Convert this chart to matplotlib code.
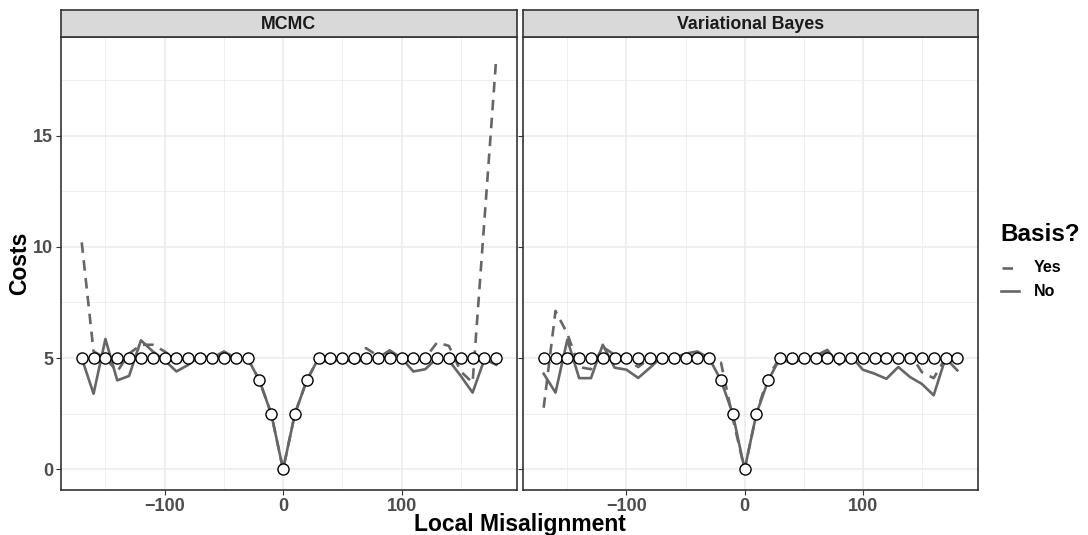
import matplotlib
matplotlib.use("Agg")
import matplotlib.pyplot as plt
from matplotlib.lines import Line2D
from matplotlib.ticker import MultipleLocator
import numpy as np

plt.rcParams['font.family'] = ['Liberation Sans', 'DejaVu Sans']
plt.rcParams['font.weight'] = 'bold'

misalignment = [-170, -160, -150, -140, -130, -120, -110, -100, -90, -80, -70, -60,
                -50, -40, -30, -20, -10, 0, 10, 20, 30, 40, 50, 60, 70, 80, 90, 100,
                110, 120, 130, 140, 150, 160, 170, 180]
target = [5, 5, 5, 5, 5, 5, 5, 5, 5, 5, 5, 5, 5, 5, 5, 4, 2.5, 0, 2.5, 4, 5, 5, 5, 5,
          5, 5, 5, 5, 5, 5, 5, 5, 5, 5, 5, 5]

mcmc_no = [5.0, 3.4, 5.86, 4.0, 4.2, 5.8, 5.3, 4.9, 4.4, 4.7, 5.1, 5.0, 5.3, 5.0, 5.0,
           4.0, 2.5, 0.0, 2.5, 4.0, 5.0, 4.75, 5.05, 4.75, 5.0, 5.0, 5.35, 5.0, 4.4, 4.5,
           5.0, 4.9, 4.2, 3.45, 4.95, 4.7]
mcmc_yes = [10.2, 5.3, 5.0, 4.4, 5.2, 5.6, 5.6, 5.3, 4.9, 5.0, 5.0, 5.0, 5.1, 5.0, 5.0,
            4.0, 2.5, 0.0, 2.5, 4.0, 5.0, 5.0, 5.0, 5.0, 5.45, 5.1, 5.0, 5.0, 4.9, 5.0,
            5.7, 5.55, 4.4, 3.9, 11.2, 18.5]
vb_no = [4.3, 3.45, 5.83, 4.1, 4.1, 5.6, 4.57, 4.48, 4.11, 4.57, 5.06, 5.0, 5.2, 5.3, 5.0,
         4.0, 2.5, 0.0, 2.5, 4.0, 5.0, 4.75, 5.0, 5.1, 5.37, 4.7, 5.1, 4.48, 4.3, 4.07,
         4.6, 4.15, 3.84, 3.33, 5.0, 4.45]
vb_yes = [2.77, 7.12, 6.1, 4.6, 4.5, 5.5, 5.15, 4.95, 4.6, 5.0, 5.0, 5.0, 5.1, 5.1, 5.0,
          4.8, 2.3, 0.0, 2.5, 4.2, 5.0, 4.8, 5.0, 5.0, 5.3, 5.0, 5.0, 5.0, 4.95, 5.0,
          5.0, 5.2, 4.37, 4.1, 5.0, 5.0]

panels = ["MCMC", "Variational Bayes"]
series = {"MCMC": (mcmc_yes, mcmc_no), "Variational Bayes": (vb_yes, vb_no)}
x_ticks = [-100, 0, 100]
x_tick_labels = ["\u2212100", "0", "100"]
y_ticks = [0, 5, 10, 15]
legend_labels = ["Yes", "No"]

W, H = 1088, 535
fig = plt.figure(figsize=(W / 100, H / 100), dpi=100)

line_col = "#666666"
lw = 1.9
dash = (0, (4, 2.8))
panel_px = [(61, 517), (523, 978)]
top_px, bot_px, strip_top = 37, 490, 10

all_y = mcmc_yes + mcmc_no + vb_yes + vb_no + target
ymin, ymax = min(all_y), max(all_y)
yr = ymax - ymin
xmin, xmax = min(misalignment), max(misalignment)
xr = xmax - xmin

for i, name in enumerate(panels):
    l, r = panel_px[i]
    ax = fig.add_axes([l / W, 1 - bot_px / H, (r - l) / W, (bot_px - top_px) / H])
    yes, no = series[name]
    ax.plot(misalignment, yes, color=line_col, lw=lw, linestyle=dash, zorder=3)
    ax.plot(misalignment, no, color=line_col, lw=lw, linestyle='-', zorder=3)
    ax.plot(misalignment, target, linestyle='none', marker='o', markersize=8.0,
            markerfacecolor='white', markeredgecolor='black', markeredgewidth=1.0, zorder=4)
    ax.set_xlim(xmin - 0.05 * xr, xmax + 0.05 * xr)
    ax.set_ylim(ymin - 0.05 * yr, ymax + 0.05 * yr)
    ax.set_xticks(x_ticks)
    ax.set_xticklabels(x_tick_labels)
    ax.xaxis.set_minor_locator(MultipleLocator(50))
    ax.set_yticks(y_ticks)
    ax.yaxis.set_minor_locator(MultipleLocator(2.5))
    ax.grid(which='major', color='#EBEBEB', lw=1.1, zorder=0)
    ax.grid(which='minor', color='#EBEBEB', lw=0.55, zorder=0)
    ax.set_axisbelow(True)
    ax.tick_params(which='major', length=3.5, width=0.8, color='#333333',
                   labelsize=13, labelcolor='#4D4D4D', pad=2)
    ax.tick_params(which='minor', length=0)
    if i == 1:
        ax.set_yticklabels([])
    for lab in ax.get_xticklabels() + ax.get_yticklabels():
        lab.set_fontweight('bold')
    for sp in ax.spines.values():
        sp.set_color('#333333')
        sp.set_linewidth(1.2)
    # strip
    sax = fig.add_axes([l / W, 1 - top_px / H, (r - l) / W, (top_px - strip_top) / H])
    sax.set_facecolor('#D9D9D9')
    sax.set_xticks([])
    sax.set_yticks([])
    for sp in sax.spines.values():
        sp.set_color('#333333')
        sp.set_linewidth(1.2)
    sax.text(0.5, 0.47, name, ha='center', va='center', fontsize=12.8,
             fontweight='bold', color='#1A1A1A', transform=sax.transAxes)

fig.text(520 / W, 1 - 524 / H, "Local Misalignment", ha='center', va='center',
         fontsize=16.5, fontweight='bold')
fig.text(20 / W, 1 - 263 / H, "Costs", ha='center', va='center', rotation=90,
         fontsize=16.5, fontweight='bold')

# legend (ggplot-style, placed explicitly)
fig.text(1000 / W, 1 - 235 / H, "Basis?", ha='left', va='center',
         fontsize=17.5, fontweight='bold')
key_styles = [dash, '-']
key_y = [268, 291]
key_x = [(1002, 1013), (1001, 1019)]
for lab, ls, ky, kx in zip(legend_labels, key_styles, key_y, key_x):
    fig.add_artist(Line2D([kx[0] / W, kx[1] / W], [1 - ky / H, 1 - ky / H],
                          transform=fig.transFigure, color=line_col, lw=lw, linestyle=ls))
    fig.text(1034 / W, 1 - ky / H, lab, ha='left', va='center',
             fontsize=11.5, fontweight='bold')

fig.savefig("out.png", dpi=100)
